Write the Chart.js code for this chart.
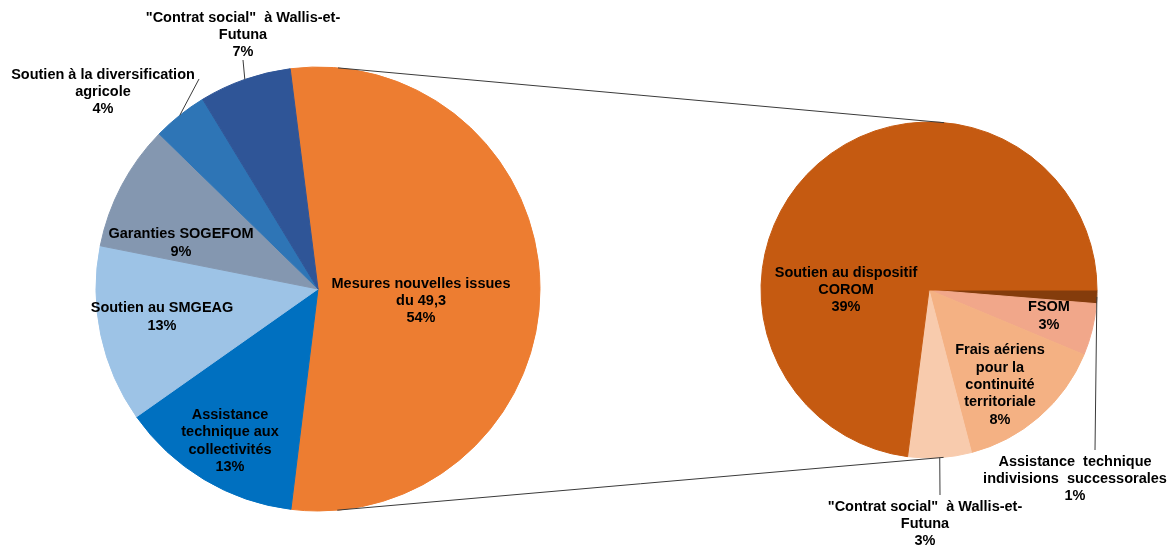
<!DOCTYPE html>
<html lang="fr">
<head>
<meta charset="UTF-8">
<title>Répartition des crédits</title>
<script src="https://cdn.jsdelivr.net/npm/chart.js@4"></script>
<style>
  body { margin: 0; background: #fff; }
  #wrap { position: relative; width: 1173px; height: 546px; }
  #wrap canvas { position: absolute; left: 0; top: 0; }
</style>
</head>
<body>
<div id="wrap">
  <canvas id="main" width="1173" height="546"></canvas>
  <canvas id="detail" width="1173" height="546"></canvas>
</div>
<script>
// secondary pie : breakdown of "Mesures nouvelles issues du 49,3" (in % of total)
const detailLabels = [
  ['Assistance  technique', 'indivisions  successorales'],
  ['FSOM'],
  ['Frais aériens', 'pour la', 'continuité', 'territoriale'],
  ['"Contrat social"  à Wallis-et-', 'Futuna'],
  ['Soutien au dispositif', 'COROM']
];
const detailValues = [0.7, 2.7, 7.9, 3.3, 39.4];
const detailColors = ['#843C0C', '#F1A78A', '#F4B183', '#F8CBAD', '#C55A11'];

// main pie (first slice = sum of the secondary pie)
const mainLabels = [
  ['Mesures nouvelles issues', 'du 49,3'],
  ['Assistance', 'technique aux', 'collectivités'],
  ['Soutien au SMGEAG'],
  ['Garanties SOGEFOM'],
  ['Soutien à la diversification', 'agricole'],
  ['"Contrat social"  à Wallis-et-', 'Futuna']
];
const otherValues = [13.3, 12.9, 9.2, 4.0, 6.7];
const mainValues = [detailValues.reduce((a, b) => a + b, 0)].concat(otherValues);
const mainColors = ['#ED7D31', '#0070C0', '#9DC3E6', '#8497B0', '#2E75B6', '#2F5597'];

// where the text blocks go (centre of block), and leader line ends
const mainLayout = [
  { x: 421, y: 301 },
  { x: 230, y: 441 },
  { x: 162, y: 317 },
  { x: 181, y: 243 },
  { x: 103, y: 92, leader: [199, 79] },
  { x: 243, y: 35, leader: [243, 60] }
];
const detailLayout = [
  { x: 1075, y: 479, leader: [1095, 450] },
  { x: 1049, y: 316 },
  { x: 1000, y: 385 },
  { x: 925, y: 524, leader: [940, 495] },
  { x: 846, y: 290 }
];

const FONT = 'bold 14.5px "Liberation Sans", Arial, sans-serif';
const LINE_H = 17.4;

function sliceLabels(layout) {
  return {
    id: 'sliceLabels',
    afterDatasetsDraw(chart) {
      const ctx = chart.ctx;
      const arcs = chart.getDatasetMeta(0).data;
      const values = chart.data.datasets[0].data;
      ctx.save();
      arcs.forEach((arc, i) => {
        const pos = layout[i];
        if (pos.leader) {
          const a = (arc.startAngle + arc.endAngle) / 2;
          ctx.beginPath();
          ctx.moveTo(arc.x + Math.cos(a) * arc.outerRadius, arc.y + Math.sin(a) * arc.outerRadius);
          ctx.lineTo(pos.leader[0], pos.leader[1]);
          ctx.strokeStyle = '#3a3a3a';
          ctx.lineWidth = 1;
          ctx.stroke();
        }
        const lines = chart.data.labels[i].concat(Math.round(values[i]) + '%');
        ctx.font = FONT;
        ctx.fillStyle = '#000';
        ctx.textAlign = 'center';
        ctx.textBaseline = 'middle';
        const top = pos.y - (lines.length - 1) * LINE_H / 2;
        lines.forEach((t, k) => ctx.fillText(t, pos.x, top + k * LINE_H));
      });
      ctx.restore();
    }
  };
}

// outer tangent lines between the two pies
const connectors = {
  id: 'connectors',
  afterDraw(chart) {
    const a = mainChart.getDatasetMeta(0).data[0];
    const b = chart.getDatasetMeta(0).data[0];
    const r1 = a.outerRadius, r2 = b.outerRadius;
    const dx = b.x - a.x, dy = b.y - a.y;
    const d = Math.hypot(dx, dy);
    const ux = dx / d, uy = dy / d;
    const k = (r1 - r2) / d, s = Math.sqrt(1 - k * k);
    const ctx = chart.ctx;
    ctx.save();
    ctx.strokeStyle = '#3a3a3a';
    ctx.lineWidth = 1;
    [1, -1].forEach(sign => {
      const nx = k * ux - sign * s * uy;
      const ny = k * uy + sign * s * ux;
      ctx.beginPath();
      ctx.moveTo(a.x + r1 * nx, a.y + r1 * ny);
      ctx.lineTo(b.x + r2 * nx, b.y + r2 * ny);
      ctx.stroke();
    });
    ctx.restore();
  }
};

function pieOptions(radius, rotation, padding) {
  return {
    responsive: false,
    animation: false,
    events: [],
    rotation: rotation,
    radius: radius,
    layout: { padding: padding },
    plugins: { legend: { display: false }, tooltip: { enabled: false } }
  };
}

const mainChart = new Chart(document.getElementById('main'), {
  type: 'pie',
  data: {
    labels: mainLabels,
    datasets: [{ data: mainValues, backgroundColor: mainColors, borderColor: mainColors, borderWidth: 1 }]
  },
  options: pieOptions(222, -7.2, { left: 96, right: 633, top: 67, bottom: 35 }),
  plugins: [sliceLabels(mainLayout)]
});

new Chart(document.getElementById('detail'), {
  type: 'pie',
  data: {
    labels: detailLabels,
    datasets: [{ data: detailValues, backgroundColor: detailColors, borderColor: detailColors, borderWidth: 1 }]
  },
  options: pieOptions(168, 90, { left: 761, right: 76, top: 122, bottom: 88 }),
  plugins: [sliceLabels(detailLayout), connectors]
});
</script>
</body>
</html>
